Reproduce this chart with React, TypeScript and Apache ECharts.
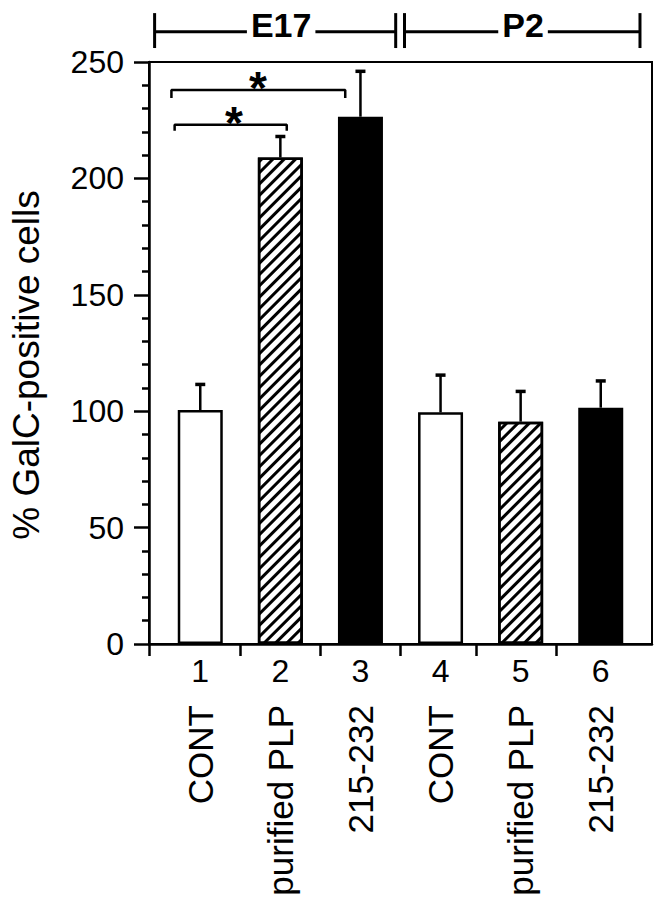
import React, { useEffect, useRef } from "react";
import * as echarts from "echarts";

// ---- data ----
const categoryNums = ["1", "2", "3", "4", "5", "6"];
const categoryNames = ["CONT", "purified PLP", "215-232", "CONT", "purified PLP", "215-232"];
const barValues = [100.5, 209, 226.5, 99.5, 95.5, 101.5];
const barErrors = [11, 9, 19.5, 16, 13, 11.5];
const barFills = ["white", "hatch", "black", "white", "hatch", "black"];
const yTicks = [0, 50, 100, 150, 200, 250];

// significance brackets in data units, with star positions
const sigBrackets = [
  { x1: 0.64, x2: 2.81, y: 238, yEnd: 234.5, starX: 1.72, starY: 243.5 },
  { x1: 0.68, x2: 2.08, y: 223, yEnd: 220.5, starX: 1.42, starY: 228.5 },
];
// group brackets above the plot
const groups = [
  { label: "E17", x1: 0.43, x2: 3.44, mid: 2.01 },
  { label: "P2", x1: 3.55, x2: 6.49, mid: 5.03 },
];
const groupY = 263;
const groupTickTop = 271;
const groupTickBottom = 256;
const groupLabelY = 265.8;

const FONT = "'Liberation Sans', Arial, Helvetica, sans-serif";

export default function App() {
  const ref = useRef<HTMLDivElement>(null);
  useEffect(() => {
    if (!ref.current) return;
    const chart = echarts.init(ref.current, null, { renderer: "svg" });
    const xs = categoryNums.map((_, i) => i + 1);

    const hatchDecal = {
      symbol: "rect",
      symbolSize: 1,
      dashArrayX: [1, 0],
      dashArrayY: [3, 5],
      rotation: -Math.PI / 4,
      color: "#000",
      backgroundColor: "#fff",
    };

    const barData = barValues.map((v, i) => {
      const f = barFills[i];
      return {
        value: [xs[i], v],
        itemStyle: {
          color: f === "black" ? "#000" : "#fff",
          borderColor: "#000",
          borderWidth: 2.5,
          decal: f === "hatch" ? hatchDecal : undefined,
        },
      };
    });

    const lineSeries: any[] = [];
    const seg = (pts: number[][], w = 2.5) => {
      lineSeries.push({
        type: "line",
        data: pts,
        symbol: "none",
        clip: false,
        silent: true,
        lineStyle: { color: "#000", width: w },
        z: 5,
      });
    };
    sigBrackets.forEach((b) => {
      seg([[b.x1, b.yEnd], [b.x1, b.y], [b.x2, b.y], [b.x2, b.yEnd]], 2.5);
    });
    groups.forEach((g) => {
      seg([[g.x1, groupY], [g.x2, groupY]], 3);
      seg([[g.x1, groupTickTop], [g.x1, groupTickBottom]], 3);
      seg([[g.x2, groupTickTop], [g.x2, groupTickBottom]], 3);
    });

    const textSeries = (
      items: { x: number; y: number; text: string }[],
      font: string,
      bg: boolean,
      dy: number
    ) => ({
      type: "custom",
      xAxisIndex: 0,
      clip: false,
      silent: true,
      z: 10,
      data: items.map((it) => [it.x, it.y]),
      renderItem: (params: any, api: any) => {
        const p = api.coord([api.value(0), api.value(1)]);
        const it = items[params.dataIndex];
        return {
          type: "text",
          x: p[0],
          y: p[1] + dy,
          z2: 100,
          style: {
            text: it.text,
            font,
            fill: "#000",
            align: "center",
            verticalAlign: "middle",
            backgroundColor: bg ? "#fff" : undefined,
            padding: bg ? [0, 4] : undefined,
          },
        };
      },
    });

    chart.setOption({
      animation: false,
      backgroundColor: "#fff",
      grid: {
        left: 144,
        right: 4,
        top: 62,
        bottom: 256,
        show: true,
        borderColor: "#000",
        borderWidth: 2,
        containLabel: false,
      },
      xAxis: [
        {
          type: "value",
          min: 0.36,
          max: 6.64,
          position: "bottom",
          splitLine: { show: false },
          axisLine: { show: true, lineStyle: { color: "#000", width: 2.5 } },
          axisTick: {
            show: true,
            customValues: [0.36, 1.5, 2.5, 3.5, 4.45, 5.45],
            length: 12,
            lineStyle: { color: "#000", width: 2.5 },
          },
          axisLabel: {
            customValues: xs,
            formatter: (v: number) => categoryNums[Math.round(v) - 1] ?? "",
            fontSize: 32,
            color: "#000",
            fontFamily: FONT,
            margin: 11,
          },
        },
        {
          type: "value",
          min: 0.36,
          max: 6.64,
          position: "bottom",
          splitLine: { show: false },
          axisLine: { show: false },
          axisTick: { show: false },
          axisLabel: {
            customValues: xs,
            formatter: (v: number) => categoryNames[Math.round(v) - 1] ?? "",
            rotate: 90,
            fontSize: 35,
            color: "#000",
            fontFamily: FONT,
            margin: 61,
          },
        },
      ],
      yAxis: {
        type: "value",
        min: 0,
        max: 250,
        interval: 50,
        splitLine: { show: false },
        axisLine: { show: true, lineStyle: { color: "#000", width: 2.5 } },
        axisTick: { show: true, length: 15, lineStyle: { color: "#000", width: 2.5 } },
        minorTick: { show: true, splitNumber: 5, length: 7, lineStyle: { color: "#000", width: 2.5 } },
        axisLabel: {
          fontSize: 32,
          color: "#000",
          fontFamily: FONT,
          margin: 25,
          formatter: (v: number) => (yTicks.includes(v) ? String(v) : ""),
        },
        name: "% GalC-positive cells",
        nameLocation: "middle",
        nameGap: 104,
        nameRotate: 90,
        nameTextStyle: { fontSize: 37, color: "#000", fontFamily: FONT, padding: [0, 24, 0, 0] },
      },
      series: [
        {
          type: "bar",
          xAxisIndex: 0,
          barWidth: 45,
          data: barData,
          z: 2,
        },
        {
          type: "custom",
          xAxisIndex: 0,
          z: 3,
          data: barValues.map((v, i) => [xs[i], v, barErrors[i]]),
          renderItem: (params: any, api: any) => {
            const x = api.value(0);
            const v = api.value(1);
            const e = api.value(2);
            const p0 = api.coord([x, v]);
            const p1 = api.coord([x, v + e]);
            return {
              type: "group",
              children: [
                {
                  type: "line",
                  shape: { x1: p0[0], y1: p0[1], x2: p1[0], y2: p1[1] },
                  style: { stroke: "#000", lineWidth: 2.5 },
                },
                {
                  type: "line",
                  shape: { x1: p1[0] - 5, y1: p1[1], x2: p1[0] + 5, y2: p1[1] },
                  style: { stroke: "#000", lineWidth: 3.5 },
                },
              ],
            };
          },
        },
        ...lineSeries,
        textSeries(
          groups.map((g) => ({ x: g.mid, y: groupLabelY, text: g.label })),
          "bold 34px 'Liberation Sans', Arial, sans-serif",
          true,
          0
        ),
        textSeries(
          sigBrackets.map((b) => ({ x: b.starX, y: b.starY, text: "*" })),
          "bold 46px 'Liberation Sans', Arial, sans-serif",
          false,
          11
        ),
      ],
    });
    return () => chart.dispose();
  }, []);
  return (
    <div
      ref={ref}
      style={{ position: "fixed", left: 0, top: 0, width: 656, height: 900, background: "#fff" }}
    />
  );
}
